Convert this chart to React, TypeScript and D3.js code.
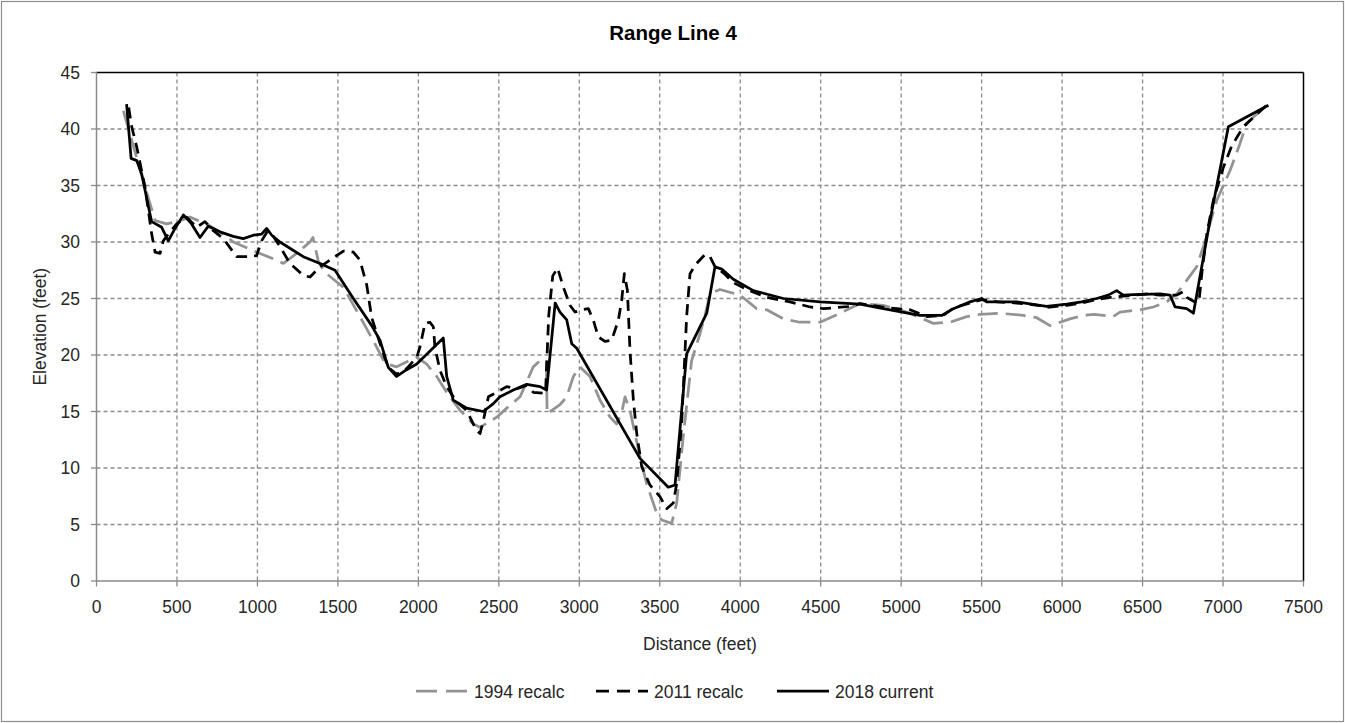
import React from "react";
import * as d3 from "d3";

// Cross-section survey of Range Line 4: distance along line (ft) vs elevation (ft)
const dist1994 = [167, 301, 364, 436, 500, 581, 685, 788, 850, 995, 1120, 1161, 1244, 1327, 1345, 1380, 1420, 1534, 1637, 1741, 1793, 1865, 1906, 1990, 2052, 2114, 2176, 2259, 2341, 2383, 2487, 2549, 2632, 2714, 2756, 2795, 2800, 2880, 2922, 2963, 3004, 3066, 3129, 3191, 3232, 3265, 3284, 3315, 3377, 3419, 3481, 3512, 3574, 3605, 3646, 3698, 3750, 3781, 3812, 3874, 3999, 4102, 4165, 4268, 4371, 4496, 4620, 4744, 4889, 5034, 5200, 5304, 5407, 5490, 5614, 5759, 5842, 5925, 5967, 6049, 6132, 6200, 6318, 6360, 6484, 6567, 6650, 6712, 6774, 6836, 6878, 6961, 7043, 7105, 7147, 7209, 7271];
const elev1994 = [41.6, 34.9, 31.9, 31.6, 31.8, 32.2, 31.6, 30.7, 30.0, 29.1, 28.4, 28.1, 29.0, 30.0, 30.4, 28.2, 27.3, 26.0, 23.4, 20.7, 19.25, 18.95, 19.25, 19.8, 19.2, 18.1, 16.7, 15.1, 13.9, 13.6, 14.5, 15.3, 16.3, 18.95, 19.5, 19.5, 14.8, 15.6, 16.3, 18.1, 18.95, 18.1, 16.0, 14.5, 13.9, 15.0, 16.3, 15.1, 11.0, 8.6, 6.0, 5.4, 5.1, 6.9, 12.8, 19.5, 21.9, 23.5, 25.4, 25.8, 25.3, 24.1, 24.0, 23.2, 22.9, 22.9, 23.7, 24.55, 24.4, 23.8, 22.8, 22.9, 23.4, 23.6, 23.7, 23.5, 23.3, 22.6, 22.8, 23.2, 23.5, 23.6, 23.4, 23.8, 24.0, 24.25, 24.7, 25.4, 26.6, 27.8, 29.6, 33.7, 36.3, 38.7, 40.5, 41.3, 42.1];

const dist2011 = [200, 219, 250, 301, 343, 364, 395, 415, 446, 498, 560, 622, 674, 726, 788, 871, 954, 995, 1026, 1060, 1089, 1140, 1202, 1285, 1327, 1389, 1451, 1534, 1596, 1637, 1679, 1710, 1751, 1790, 1813, 1865, 1927, 1990, 2010, 2041, 2072, 2093, 2103, 2134, 2176, 2238, 2300, 2331, 2362, 2383, 2404, 2435, 2487, 2549, 2611, 2673, 2714, 2790, 2810, 2835, 2865, 2901, 2942, 2973, 3015, 3056, 3087, 3118, 3160, 3201, 3243, 3263, 3280, 3299, 3315, 3336, 3357, 3388, 3439, 3502, 3543, 3584, 3605, 3636, 3667, 3688, 3729, 3781, 3812, 3840, 3900, 3957, 4040, 4165, 4309, 4434, 4516, 4682, 4744, 4900, 5055, 5159, 5262, 5330, 5430, 5500, 5600, 5718, 5850, 5904, 6029, 6122, 6215, 6300, 6380, 6443, 6530, 6608, 6712, 6753, 6775, 6836, 6851, 6868, 6899, 6940, 7002, 7054, 7126, 7209, 7271];
const elev2011 = [41.9, 40.2, 38.4, 34.9, 30.7, 29.1, 29.0, 30.1, 30.7, 31.6, 32.2, 31.3, 31.8, 31.0, 30.3, 28.7, 28.7, 28.8, 30.1, 30.9, 30.7, 29.6, 28.1, 27.05, 26.9, 27.8, 28.4, 29.2, 29.1, 28.4, 26.2, 23.3, 21.5, 19.8, 18.9, 18.3, 18.8, 19.8, 20.7, 22.8, 22.9, 22.5, 20.7, 18.65, 17.2, 15.85, 15.1, 14.2, 13.3, 13.05, 14.2, 16.3, 16.7, 17.2, 17.0, 17.3, 16.7, 16.6, 23.5, 27.0, 27.7, 26.0, 24.4, 23.8, 24.0, 24.1, 23.1, 21.6, 21.2, 21.3, 23.1, 24.8, 27.2, 25.7, 20.4, 16.0, 13.05, 10.1, 8.5, 7.45, 6.4, 6.9, 8.6, 13.9, 23.4, 27.2, 28.1, 28.9, 28.7, 27.9, 27.2, 26.4, 25.8, 25.1, 24.7, 24.25, 24.1, 24.3, 24.55, 24.2, 24.0, 23.4, 23.5, 24.2, 24.6, 24.9, 24.7, 24.6, 24.4, 24.2, 24.4, 24.6, 24.9, 25.1, 25.2, 25.3, 25.4, 25.3, 25.3, 25.6, 25.1, 24.6, 24.8, 27.2, 30.7, 33.7, 36.6, 38.5, 40.2, 41.3, 42.1];

const dist2018 = [187, 215, 250, 281, 332, 343, 405, 446, 488, 540, 591, 643, 695, 767, 850, 912, 975, 1026, 1057, 1089, 1140, 1285, 1389, 1482, 1596, 1710, 1762, 1813, 1865, 1927, 1990, 2155, 2176, 2217, 2300, 2403, 2466, 2507, 2590, 2673, 2756, 2797, 2850, 2880, 2922, 2953, 2984, 3377, 3553, 3595, 3667, 3792, 3843, 3885, 3957, 4081, 4268, 4496, 4744, 4889, 5117, 5252, 5324, 5428, 5500, 5531, 5718, 5904, 6029, 6122, 6215, 6287, 6339, 6380, 6443, 6608, 6671, 6702, 6774, 6816, 6919, 7033, 7282];
const elev2018 = [42.2, 37.4, 37.2, 36.0, 32.5, 31.8, 31.3, 30.1, 31.2, 32.4, 31.6, 30.4, 31.4, 30.9, 30.5, 30.3, 30.6, 30.7, 31.2, 30.6, 30.0, 28.7, 28.1, 27.5, 25.0, 22.6, 21.3, 18.9, 18.1, 18.7, 19.2, 21.5, 18.1, 16.0, 15.3, 15.0, 15.7, 16.3, 16.9, 17.4, 17.2, 16.9, 24.6, 23.8, 23.1, 21.0, 20.6, 10.85, 8.3, 8.5, 20.1, 23.7, 27.8, 27.6, 26.7, 25.7, 25.0, 24.7, 24.5, 24.1, 23.5, 23.5, 24.1, 24.7, 25.0, 24.7, 24.7, 24.3, 24.5, 24.7, 25.0, 25.3, 25.7, 25.3, 25.35, 25.4, 25.3, 24.25, 24.1, 23.7, 31.9, 40.2, 42.1];

const xTicks = d3.range(0, 7501, 500);
const yTicks = d3.range(0, 46, 5);

const seriesNames = ["1994 recalc", "2011 recalc", "2018 current"];

const W = 1345;
const H = 723;
const plot = { left: 96.5, right: 1303.5, top: 72.5, bottom: 581 };
const FONT = "'Liberation Sans', Arial, sans-serif";

type Pt = [number, number];

const zip = (xs: number[], ys: number[]): Pt[] => xs.map((x, i) => [x, ys[i]]);

export default function App() {
  const x = d3.scaleLinear().domain([0, 7500]).range([plot.left, plot.right]);
  const y = d3.scaleLinear().domain([0, 45]).range([plot.bottom, plot.top]);
  const line = d3
    .line<Pt>()
    .x((d) => x(d[0]))
    .y((d) => y(d[1]));

  const series = [
    { name: seriesNames[0], pts: zip(dist1994, elev1994), color: "#939393", dash: "20,8" },
    { name: seriesNames[1], pts: zip(dist2011, elev2011), color: "#000000", dash: "11,7" },
    { name: seriesNames[2], pts: zip(dist2018, elev2018), color: "#000000", dash: "none" },
  ];

  const legendItems = [
    { lineX: 416, textX: 474, legendDash: "21,9" },
    { lineX: 596, textX: 654, legendDash: "13,8" },
    { lineX: 777, textX: 835, legendDash: "none" },
  ];

  const gridColor = "#8c8c8c";
  const axisColor = "#8a8a8a";

  return (
    <svg
      width={W}
      height={H}
      style={{ position: "absolute", left: 0, top: 0, background: "#fff" }}
    >
      <rect x={1.5} y={1.5} width={W - 3} height={H - 3} fill="#fff" stroke="#8e8e8e" strokeWidth={1.2} />

      <text x={673} y={40} textAnchor="middle" fontFamily={FONT} fontWeight="bold" fontSize={20.5} fill="#000">
        Range Line 4
      </text>

      {/* gridlines */}
      {yTicks
        .filter((t) => t > 0 && t < 45)
        .map((t) => (
          <line key={"gy" + t} x1={plot.left} x2={plot.right} y1={y(t)} y2={y(t)} stroke={gridColor} strokeWidth={1.3} strokeDasharray="4,3" />
        ))}
      {xTicks
        .filter((t) => t > 0 && t < 7500)
        .map((t) => (
          <line key={"gx" + t} x1={x(t)} x2={x(t)} y1={plot.top} y2={plot.bottom} stroke={gridColor} strokeWidth={1.3} strokeDasharray="4,3" />
        ))}

      {/* plot frame */}
      <line x1={plot.left} x2={plot.right} y1={plot.top} y2={plot.top} stroke="#000" strokeWidth={1.5} />
      <line x1={plot.right} x2={plot.right} y1={plot.top} y2={plot.bottom} stroke="#000" strokeWidth={1.5} />
      <line x1={plot.left} x2={plot.left} y1={plot.top} y2={plot.bottom} stroke={axisColor} strokeWidth={1.5} />
      <line x1={plot.left} x2={plot.right} y1={plot.bottom} y2={plot.bottom} stroke={axisColor} strokeWidth={1.5} />

      {/* y axis ticks */}
      {yTicks.map((t) => (
        <g key={"yt" + t}>
          <line x1={plot.left - 5.5} x2={plot.left} y1={y(t)} y2={y(t)} stroke={axisColor} strokeWidth={1.3} />
          <text x={80} y={y(t)} dy="0.36em" textAnchor="end" fontFamily={FONT} fontSize={17.5} fill="#262626">
            {t}
          </text>
        </g>
      ))}

      {/* x axis ticks */}
      {xTicks.map((t) => (
        <g key={"xt" + t}>
          <line x1={x(t)} x2={x(t)} y1={plot.bottom} y2={plot.bottom + 5.5} stroke={axisColor} strokeWidth={1.3} />
          <text x={x(t)} y={612.5} textAnchor="middle" fontFamily={FONT} fontSize={17.5} fill="#262626">
            {t}
          </text>
        </g>
      ))}

      <text x={700} y={650} textAnchor="middle" fontFamily={FONT} fontSize={17.5} fill="#262626">
        Distance (feet)
      </text>
      <text
        transform={`translate(46,${(plot.top + plot.bottom) / 2}) rotate(-90)`}
        textAnchor="middle"
        fontFamily={FONT}
        fontSize={17.5}
        fill="#262626"
      >
        Elevation (feet)
      </text>

      {/* series */}
      {series.map((s) => (
        <path
          key={s.name}
          d={line(s.pts) ?? ""}
          fill="none"
          stroke={s.color}
          strokeWidth={2.75}
          strokeDasharray={s.dash}
          strokeLinejoin="round"
        />
      ))}

      {/* legend */}
      {series.map((s, i) => (
        <g key={"lg" + s.name}>
          <line
            x1={legendItems[i].lineX}
            x2={legendItems[i].lineX + 52}
            y1={691}
            y2={691}
            stroke={s.color}
            strokeWidth={2.75}
            strokeDasharray={legendItems[i].legendDash}
          />
          <text x={legendItems[i].textX} y={697.5} fontFamily={FONT} fontSize={17.5} fill="#262626">
            {s.name}
          </text>
        </g>
      ))}
    </svg>
  );
}
